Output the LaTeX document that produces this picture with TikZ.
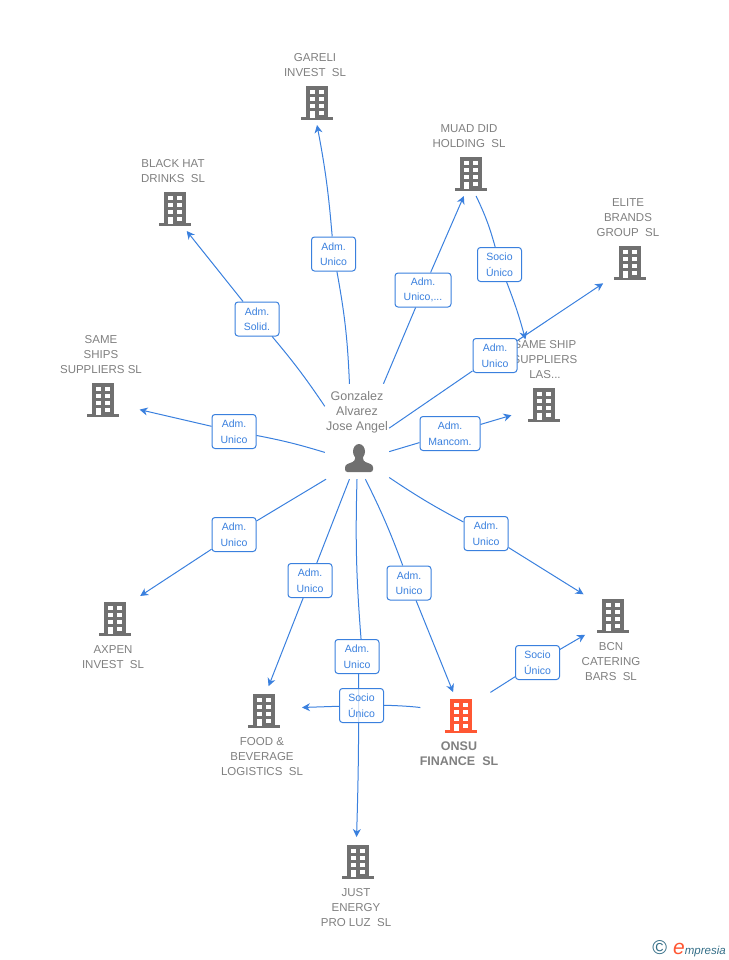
\documentclass[tikz,border=0pt]{standalone}
\usepackage{fontspec}
\setmainfont{Liberation Sans}
\usetikzlibrary{positioning,arrows.meta}
\definecolor{linkblue}{RGB}{58,128,222}
\definecolor{labelgray}{RGB}{128,128,128}
\definecolor{icongray}{RGB}{112,112,112}
\definecolor{onsuorange}{RGB}{255,87,51}
\definecolor{logoteal}{RGB}{52,110,135}
\newcommand{\towericon}[1]{%
	\fill[#1] (-16,14) rectangle (16,17);
	\fill[#1] (-11,-17) rectangle (11,15);
	\foreach \ypos in {-13,-6,1} {
		\fill[white] (-7,\ypos) rectangle (-2,\ypos+4);
		\fill[white] (2,\ypos) rectangle (7,\ypos+4);
	}
	\fill[white] (-7,8) rectangle (-2,15);
	\fill[white] (2,8) rectangle (7,12);
}
\begin{document}
\begin{tikzpicture}[
				x=1pt, y=-1pt,
				tower/.style={rectangle, minimum width=32pt, minimum height=34pt, inner sep=0pt, outer sep=5pt,
					path picture={\begin{scope}[shift={(path picture bounding box.center)}]\towericon{#1}\end{scope}}},
				tower/.default=icongray,
				namelbl/.style={text=labelgray, align=center, inner sep=1pt, xshift=-2pt, font=\fontsize{11.5}{15}\selectfont},
				rolebox/.style={rectangle, draw=linkblue, line width=1pt, rounded corners=3pt, fill=white, text=linkblue, align=center,
					minimum width=44pt, minimum height=34pt, inner sep=0pt, font=\fontsize{10.5}{15.5}\selectfont},
				link/.style={draw=linkblue, line width=1pt},
				arrowlink/.style={link, -{Stealth[length=8pt,width=8pt,inset=2.5pt]}}
				]
				\useasboundingbox (0,0) rectangle (728,960);
				
				% companies
				\node[tower] (gareli) at (317,103) {};
				\node[tower] (muad) at (471,174) {};
				\node[tower] (blackhat) at (175,209) {};
				\node[tower] (elite) at (630,263) {};
				\node[tower] (sameshiplas) at (544,405) {};
				\node[tower] (sameships) at (103,400) {};
				\node[tower] (axpen) at (115,619) {};
				\node[tower] (bcn) at (613,616) {};
				\node[tower] (food) at (264,711) {};
				\node[tower=onsuorange] (onsu) at (461,716) {};
				\node[tower] (just) at (358,862) {};
				
				\node[namelbl, above=3pt of gareli] (garelilbl) {GARELI\\INVEST~ SL};
				\node[namelbl, above=3pt of muad] (muadlbl) {MUAD DID\\HOLDING~ SL};
				\node[namelbl, above=3pt of blackhat] (blackhatlbl) {BLACK HAT\\DRINKS~ SL};
				\node[namelbl, above=3pt of elite] (elitelbl) {ELITE\\BRANDS\\GROUP~ SL};
				\node[namelbl, above=3pt of sameshiplas, xshift=3pt] (sameshiplaslbl) {SAME SHIP\\SUPPLIERS\\LAS...};
				\node[namelbl, above=3pt of sameships] (sameshipslbl) {SAME\\SHIPS\\SUPPLIERS SL};
				\node[namelbl, below=3pt of axpen] (axpenlbl) {AXPEN\\INVEST~ SL};
				\node[namelbl, below=3pt of bcn] (bcnlbl) {BCN\\CATERING\\BARS~ SL};
				\node[namelbl, below=3pt of food] (foodlbl) {FOOD \&\\BEVERAGE\\LOGISTICS~ SL};
				\node[namelbl, below=3pt of onsu, font=\fontsize{12.5}{15}\selectfont\bfseries] (onsulbl) {ONSU\\FINANCE~ SL};
				\node[namelbl, below=3pt of just] (justlbl) {JUST\\ENERGY\\PRO LUZ~ SL};
				
				% person in the middle
				\node[rectangle, minimum width=64pt, minimum height=95pt, inner sep=0pt] (hub) at (357,431.5) {};
				\node[namelbl, below=6.5pt of hub.north, xshift=2pt, font=\fontsize{12.5}{15}\selectfont] (hublbl) {Gonzalez\\Alvarez\\Jose Angel};
				\node[minimum width=28pt, minimum height=28pt, inner sep=0pt] (hubicon) at (359,458) {};
				\fill[icongray] (hubicon.center) ++(0,-6.5) circle[x radius=6, y radius=7.5];
				\fill[icongray, rounded corners=2.5pt] (345,472) -- (345,465) -- (355,461) -- (355,455) -- (363,455) -- (363,461) -- (373,465) -- (373,472) -- cycle;
				
				\node[rolebox] (roleGareli) at (333.5,254) {Adm.\\Unico};
				\node[rolebox, minimum width=56pt] (roleMuad) at (423,290) {Adm.\\Unico,...};
				\node[rolebox] (roleBlack) at (257,319) {Adm.\\Solid.};
				\node[rolebox] (roleMuadShip) at (499.5,264.5) {Socio\\Único};
				\node[rolebox] (roleElite) at (495,355.5) {Adm.\\Unico};
				\node[rolebox, minimum width=60pt] (roleShipLas) at (450,433.5) {Adm.\\Mancom.};
				\node[rolebox] (roleShips) at (234,431.5) {Adm.\\Unico};
				\node[rolebox] (roleAxpen) at (234,534.5) {Adm.\\Unico};
				\node[rolebox] (roleFood) at (310,580.5) {Adm.\\Unico};
				\node[rolebox] (roleJust) at (357,656.5) {Adm.\\Unico};
				\node[rolebox] (roleOnsu) at (409,583) {Adm.\\Unico};
				\node[rolebox] (roleBcn) at (486,533.5) {Adm.\\Unico};
				\node[rolebox] (roleOnsuBcn) at (537.5,662.5) {Socio\\Único};
				
				\draw[link] (hub.-90) to[bend right=3] (roleJust.77);
				\draw[arrowlink, shorten >=3pt] (roleJust.-85) to[bend left=1] (just.94);
				\node[rolebox, fill opacity=0.75, text opacity=1] (roleOnsuFood) at (361.5,705.5) {Socio\\Único};
				
				\draw[link] (hub.99.6) to[bend right=4] (roleGareli);
				\draw[arrowlink] (roleGareli) to[bend right=3] (gareli.-90);
				\draw[link] (hub.142) to[bend right=3] (roleBlack);
				\draw[arrowlink] (roleBlack) -- (blackhat.-62);
				\draw[link] (hub.61.3) -- (roleMuad);
				\draw[arrowlink] (roleMuad) -- (muad.-108);
				\draw[link] (muad.-77) to[bend left=5] (roleMuadShip);
				\draw[arrowlink] (roleMuadShip) to[bend left=3] (sameshiplaslbl.134);
				\draw[link] (hub.6.4) -- (roleElite);
				\draw[arrowlink, shorten >=7pt] (roleElite) -- (elite.-142);
				\draw[link] (hub.-32) -- (roleShipLas);
				\draw[arrowlink, shorten >=12pt] (roleShipLas) -- (sameshiplas.198);
				\draw[link] (hub.-147.3) to[bend right=3] (roleShips);
				\draw[arrowlink, shorten >=16pt] (roleShips) -- (sameships.-16);
				\draw[link] (hub.-123.7) -- (roleAxpen);
				\draw[arrowlink, shorten >=5pt] (roleAxpen) -- (axpen.44);
				\draw[link] (hub.-99.6) -- (roleFood);
				\draw[arrowlink, shorten >=3pt] (roleFood) -- (food.81);
				\draw[link] (hub.-80.4) to[bend left=3] (roleOnsu);
				\draw[arrowlink, shorten >=2pt] (roleOnsu) -- (onsu.108);
				\draw[link] (hub.-55.5) to[bend right=3] (roleBcn);
				\draw[arrowlink, shorten >=10pt] (roleBcn) -- (bcn.142);
				\draw[link, shorten <=10pt] (onsu.41) -- (roleOnsuBcn);
				\draw[arrowlink, shorten >=8pt] (roleOnsuBcn) -- (bcn.215);
				\draw[link, shorten <=20pt] (onsu.168) to[bend right=5] (roleOnsuFood);
				\draw[arrowlink, shorten >=17pt] (roleOnsuFood) -- (food.8.7);
				
				\node[anchor=east, inner sep=0pt, text=logoteal, font=\fontsize{11.5}{12}\selectfont\itshape] (logo) at (726,949) {{\fontsize{20}{20}\selectfont\upshape\textcopyright}\hspace{6pt}{\color{onsuorange}\fontsize{21}{21}\selectfont e}mpresia};
			\end{tikzpicture}
\end{document}
